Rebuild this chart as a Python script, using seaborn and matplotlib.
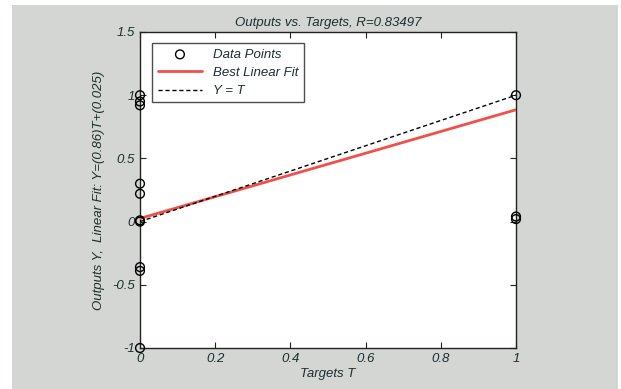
import matplotlib
matplotlib.use("Agg")
import numpy as np
import pandas as pd
import seaborn as sns
from matplotlib import pyplot as plt
from matplotlib.patches import Rectangle

sns.set_style("ticks")
plt.rcParams["font.family"] = ["Liberation Sans", "DejaVu Sans"]
plt.rcParams["font.style"] = "italic"

# data
targets = [0, 0, 0, 0, 0, 0, 0, 0, 0, 0, 1, 1, 1]
outputs = [1.0, 0.95, 0.92, 0.30, 0.22, 0.01, 0.0, -0.36, -0.39, -1.0, 1.0, 0.04, 0.02]
fit_x = [0, 1]
fit_y = [0.025, 0.885]
ident_x = [0, 1]
ident_y = [0, 1]
r_value = 0.83497
xticks = [0, 0.2, 0.4, 0.6, 0.8, 1]
yticks = [-1, -0.5, 0, 0.5, 1, 1.5]

points = pd.DataFrame({"T": targets, "Y": outputs})

fig = plt.figure(figsize=(6.21, 3.89), dpi=100, facecolor="white")
# grey scanned background with thin white margin
fig.patches.append(Rectangle((12 / 621, 0), 606 / 621, 1 - 5 / 389,
                             transform=fig.transFigure, facecolor="#d3d6d3",
                             edgecolor="none", zorder=-10))
ax = fig.add_axes([140 / 621, 1 - 348 / 389, 376 / 621, 316 / 389])
ax.set_zorder(1)
ax.set_facecolor("white")

sns.scatterplot(data=points, x="T", y="Y", ax=ax, marker="o", s=40,
                facecolors="none", edgecolor="black", linewidth=1,
                label="Data Points", zorder=5, clip_on=False)
sns.lineplot(x=fit_x, y=fit_y, ax=ax, color="#f0504a", linewidth=2,
             label="Best Linear Fit", zorder=3)
sns.lineplot(x=ident_x, y=ident_y, ax=ax, color="black", linewidth=1,
             linestyle=(0, (3, 2)), label="Y = T", zorder=4)

ax.set_xlim(0, 1)
ax.set_ylim(-1, 1.5)
ax.set_xticks(xticks)
ax.set_xticklabels(["0", "0.2", "0.4", "0.6", "0.8", "1"])
ax.set_yticks(yticks)
ax.set_yticklabels(["-1", "-0.5", "0", "0.5", "1", "1.5"])
ax.tick_params(direction="in", top=True, right=True, length=4,
               labelsize=9.5, colors="#222", labelcolor="#1e2e30")
for side in ax.spines.values():
    side.set_color("#222")
    side.set_linewidth(1)

ax.set_title(f"Outputs vs. Targets, R={r_value}", fontsize=9.5, color="#1e2e30", pad=4)
ax.set_xlabel("Targets T", fontsize=9.5, color="#1e2e30", labelpad=2)
ax.set_ylabel("Outputs Y,  Linear Fit: Y=(0.86)T+(0.025)", fontsize=9.5,
              color="#1e2e30", labelpad=5)

leg = ax.legend(loc="upper left", fontsize=9.5, frameon=True, fancybox=False,
                edgecolor="#222", borderpad=0.4, handlelength=3.4,
                handletextpad=0.8, labelspacing=0.45,
                bbox_to_anchor=(0.015, 0.985))
leg.get_frame().set_linewidth(1)
for t in leg.get_texts():
    t.set_color("#1e2e30")

plt.savefig("out.png", dpi=100, facecolor=fig.get_facecolor())
